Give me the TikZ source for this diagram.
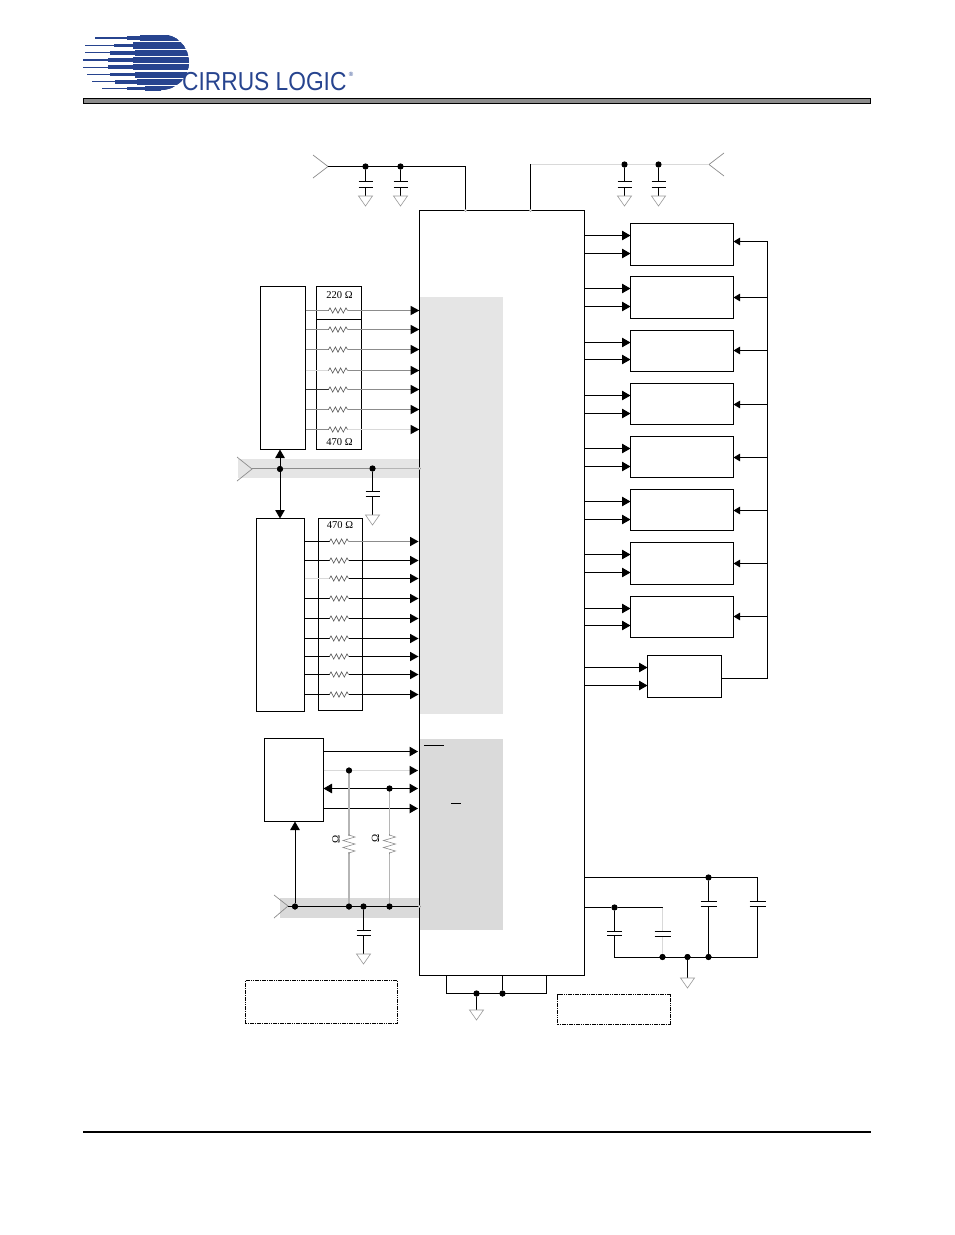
\documentclass[tikz,border=0pt]{standalone}
\usepackage{fontspec}
\setmainfont{Liberation Serif}
\newfontfamily\logofont{Liberation Sans}
\usetikzlibrary{arrows.meta,calc,patterns.meta}
\definecolor{logoblue}{HTML}{27448F}
\definecolor{wiregray}{HTML}{8C8C8C}
\definecolor{wirelight}{HTML}{D9D9D9}
\definecolor{wiremid}{HTML}{B5B5B5}
\definecolor{bandgray}{HTML}{E5E5E5}
\tikzset{
  x=1pt,y=-1pt,
  wire/.style={line width=1pt,black},
  gwire/.style={line width=1pt,wiregray},
  lwire/.style={line width=1pt,wirelight},
  mwire/.style={line width=1pt,wiremid},
  big/.style={-{Triangle[length=8.5pt,width=9.5pt]}},
  bigboth/.style={{Triangle[length=8.5pt,width=9.5pt]}-{Triangle[length=8.5pt,width=9.5pt]}},
  small/.style={-{Triangle[length=6.5pt,width=7.5pt]}},
  boxnode/.style={draw=black,line width=1pt,fill=white,inner sep=0pt,outer sep=0pt},
  dashbox/.style={draw=black,line width=1pt,dash pattern=on 1.6pt off .7pt,inner sep=0pt,outer sep=0pt},
  dotshade/.style={pattern={Dots[distance=2pt,radius=.62pt]},pattern color=black!62,inner sep=0pt,outer sep=0pt},
  jdot/.style={circle,fill=black,inner sep=0pt,minimum size=6pt},
  pinmark/.style={circle,draw=black!45,fill=white,line width=.4pt,inner sep=0pt,minimum size=2.4pt},
  gndtri/.style={draw=black!40,line width=.6pt,line join=miter},
  chev/.style={draw=wiregray,line width=.7pt},
  res/.style={draw=black!65,line width=.6pt},
  resv/.style={draw=black!45,line width=.6pt},
  lbl/.style={font=\fontsize{10.5}{12}\selectfont,inner sep=0pt,text=black},
}
\newcommand{\RectNode}[6][boxnode]{%
  \node[#1,anchor=north west,minimum width={(#5-#3)*1pt},minimum height={(#6-#4)*1pt}] (#2) at (#3,#4) {};}
\newcommand{\ResH}[2]{%
  \draw[res] (#1-9.5,#2) -- (#1-8,#2-2.6) -- (#1-5.3,#2+2.6) -- (#1-2.6,#2-2.6) -- (#1,#2+2.6) -- (#1+2.6,#2-2.6) -- (#1+5.3,#2+2.6) -- (#1+8,#2-2.6) -- (#1+9.5,#2);}
\newcommand{\ResV}[2]{%
  \fill[white] (#1-2,#2-8) rectangle (#1+2,#2+8);
  \draw[resv] (#1,#2-10) -- (#1,#2-9) -- (#1+6,#2-7) -- (#1-6,#2-3.5) -- (#1+6,#2) -- (#1-6,#2+3.5) -- (#1+6,#2+7) -- (#1,#2+9) -- (#1,#2+10);}
\newcommand{\CapPlates}[4][7]{%
  \fill[white] (#2-#1,#3) rectangle (#2+#1,#4);
  \draw[wire] (#2-#1,#3) -- (#2+#1,#3) (#2-#1,#4) -- (#2+#1,#4);}
\newcommand{\Gnd}[2]{%
  \draw[gndtri] (#1-7,#2) -- (#1+7,#2) -- (#1,#2+10) -- cycle;}
% the stripes of the logo
\newcommand{\LogoRows}{%
  \foreach \yy/\la/\lb/\lc/\hh in {38/95/127/140/6.8, 45.5/85/114/133/6.2, 52.7/85/110/135/6.2, 60/83/108/133/6.2, 67.2/83/108/133/6.2, 74.6/87/110/135/6.2, 81.8/92/115/137/6.2, 88.5/102/127/145/5}{
    \fill[logoblue] (\la,\yy-.65) rectangle (200,\yy+.65);
    \fill[logoblue] (\lb,\yy-1.8) rectangle (200,\yy+1.8);
    \fill[logoblue] (\lc,\yy-\hh/2) rectangle (200,\yy+\hh/2);
  }}
\begin{document}
\begin{tikzpicture}
\useasboundingbox[fill=white] (0,0) rectangle (954,1235);

% ---------- logo ----------
\begin{scope}
  \clip (70,30) rectangle (161,95);
  \LogoRows
\end{scope}
\begin{scope}
  \clip (161,62) circle[radius=28];
  \LogoRows
\end{scope}
\node[anchor=south west,inner sep=0pt,text=logoblue,xscale=.875,font=\logofont\fontsize{26}{26}\selectfont] (logotext) at (182,91) {CIRRUS LOGIC};
\node[anchor=center,inner sep=0pt,text=logoblue,font=\logofont\fontsize{6}{6}\selectfont] (logoreg) at (351,74) {®};

% header and footer rules
\RectNode[draw=black,line width=1pt,fill=black!45,inner sep=0pt,outer sep=0pt]{headbar}{83.5}{98.5}{870.5}{103}
\coordinate (footL) at (83,1132);
\coordinate (footR) at (871,1132);
\draw[line width=1.4pt] (footL) -- (footR);

% ---------- IC and shaded areas ----------
\RectNode{chip}{419.5}{210.5}{584.5}{975.5}
\RectNode[fill=bandgray,inner sep=0pt,outer sep=0pt]{shadeA}{420}{297}{503}{714}
\RectNode[dotshade]{shadeB}{420}{739}{503}{929}
\RectNode[fill=bandgray,inner sep=0pt,outer sep=0pt]{bandA}{238}{459}{419}{478}
\RectNode[dotshade]{bandB}{280}{898}{419}{917}

% overbars inside the IC
\draw[wire] (424,745.5) -- (444,745.5) (451,803.5) -- (461,803.5);

% ---------- top supplies ----------
\coordinate (inTL) at (328,166.5);
\coordinate (inTR) at (709,164.5);
\coordinate (pinTL) at (465.5,210.5);
\coordinate (pinTR) at (530.5,210.5);
\node[jdot] (dTL1) at (365.5,166.5) {};
\node[jdot] (dTL2) at (400.5,166.5) {};
\node[jdot] (dTR1) at (624.5,164.5) {};
\node[jdot] (dTR2) at (658.5,164.5) {};
\draw[chev] (313,155) -- (inTL) -- (313,178);
\draw[chev] (724,153) -- (inTR) -- (724,176);
\draw[wire] (inTL) -- (465.5,166.5) -- (pinTL);
\draw[lwire] (530.5,164.5) -- (inTR);
\draw[wire] (pinTR) -- (530.5,164);
\foreach \n/\xx in {dTL1/365.5,dTL2/400.5,dTR1/624.5,dTR2/658.5}{
  \draw[wire] (\n) -- (\xx,196);
  \CapPlates{\xx}{181.5}{187.5}
  \Gnd{\xx}{196}
}

% ---------- upper left block ----------
\RectNode{boxA}{260.5}{286.5}{305.5}{449.5}
\RectNode{resA}{316.5}{286.5}{361.5}{449.5}
\draw[wire] (resA.west |- 0,319.5) -- (resA.east |- 0,319.5);
\node[lbl] (t220) at (339.5,295) {220 Ω};
\node[lbl] (t470a) at (339.5,442.5) {470 Ω};
\foreach \yy/\cl/\cr in {310/wiregray/wiregray,329/wiregray/wiregray,349/wiregray/wiregray,370/wirelight/wiregray,389/black!80/wiregray,409/wiregray/wiregray,429/wiregray/wirelight}{
  \draw[line width=1pt,\cl] (boxA.east |- 0,\yy+.5) -- (328.5,\yy+.5);
  \draw[line width=1pt,\cr] (347.5,\yy+.5) -- (412,\yy+.5);
  \fill (419.3,\yy+.5) -- (410.5,\yy-4.25) -- (410.5,\yy+5.25) -- cycle;
  \ResH{338}{\yy+.5}
}

% ---------- common bus 1 ----------
\coordinate (inB1) at (252,469);
\draw[chev] (237,457) -- (inB1) -- (237,481);
\node[jdot] (dB1a) at (280,469) {};
\node[jdot] (dB1b) at (372.5,468.5) {};
\coordinate (pinB1) at (419.5,468.5);
\draw[gwire] (inB1 |- pinB1) -- (pinB1 -| dB1b);
\draw[mwire] (dB1b) -- (pinB1);
\draw[wire] (dB1b) -- (372.5,515);
\CapPlates{372.5}{491.5}{496.5}
\Gnd{372.5}{515}

% ---------- lower left block ----------
\RectNode{boxB}{256.5}{518.5}{304.5}{711.5}
\RectNode{resB}{318.5}{518.5}{362.5}{710.5}
\node[lbl] (t470b) at (340,525.5) {470 Ω};
\draw[wire,bigboth] (boxA.south -| dB1a) -- (boxB.north -| dB1a);
\foreach \yy/\cl/\cr in {541/black/wiregray,560/black/black,578/wirelight/black,598/black/black,618/black/black,638/black/black,656/black/black,674/black/black,694/black/black}{
  \draw[line width=1pt,\cl] (boxB.east |- 0,\yy+.5) -- (330,\yy+.5);
  \draw[line width=1pt,\cr] (348.5,\yy+.5) -- (412,\yy+.5);
  \fill (418.5,\yy+.5) -- (410,\yy-4.25) -- (410,\yy+5.25) -- cycle;
  \ResH{339}{\yy+.5}
}

% ---------- control block ----------
\RectNode{boxC}{264.5}{738.5}{323.5}{821.5}
\draw[wire,big] (boxC.east |- 0,751.5) -- (418,751.5);
\draw[lwire] (boxC.east |- 0,770.5) -- (410,770.5);
\fill (418,770.5) -- (409.5,765.75) -- (409.5,775.25) -- cycle;
\draw[wire,bigboth] (boxC.east |- 0,788.5) -- (418,788.5);
\draw[wire,big] (boxC.east |- 0,808.5) -- (418,808.5);
\node[jdot] (dC1) at (349,770.5) {};
\node[jdot] (dC2) at (389.5,788.5) {};

% ---------- common bus 2 ----------
\coordinate (inB2) at (288,906);
\draw[chev] (274,895) -- (inB2) -- (274,918);
\node[jdot] (dB2a) at (295,906.5) {};
\node[jdot] (dB2b) at (349,906.5) {};
\node[jdot] (dB2c) at (363.5,906.5) {};
\node[jdot] (dB2d) at (389.5,906.5) {};
\coordinate (pinB2) at (419.5,906.5);
\draw[wire] (inB2 |- pinB2) -- (pinB2);
\draw[wire,big] (dB2a) -- (boxC.south -| dB2a);
\draw[line width=1.3pt,wiremid] (dC1) -- (dB2b);
\draw[line width=.8pt,wiremid] (dC2) -- (dB2d);
\ResV{349}{844}
\ResV{389.5}{844}
\node[lbl,font=\fontsize{11}{12}\selectfont,rotate=90] (tOm1) at (336,839) {Ω};
\node[lbl,font=\fontsize{11}{12}\selectfont,rotate=90] (tOm2) at (375.5,838) {Ω};
\draw[wire] (dB2c) -- (363.5,954);
\CapPlates{363.5}{930.5}{935.5}
\Gnd{363.5}{954}

% ---------- dashed note boxes ----------
\RectNode[dashbox]{noteL}{245.5}{980.5}{397.5}{1023.5}
\RectNode[dashbox]{noteR}{557.5}{994.5}{670.5}{1024.5}

% ---------- IC ground pins ----------
\node[jdot] (dG1) at (476.5,993.5) {};
\node[jdot] (dG2) at (502.5,993.5) {};
\draw[wire] (446.5,975.5) -- (446.5,993.5) -- (546.5,993.5) -- (546.5,975.5);
\draw[wire] (dG2) -- (502.5,975.5);
\draw[wire] (dG1) -- (476.5,1010);
\Gnd{476.5}{1010}

% ---------- right side: output blocks ----------
\foreach \nn/\yt/\yb/\ya/\yc/\yf in {1/223.5/265.5/235.5/253.5/241.5,2/276.5/318.5/288.5/306.5/297.5,3/330.5/371.5/342.5/359.5/350.5,4/383.5/424.5/395.5/413.5/404.5,5/436.5/477.5/448.5/466.5/457.5,6/489.5/530.5/501.5/519.5/510.5,7/542.5/584.5/554.5/572.5/563.5,8/596.5/637.5/608.5/625.5/616.5}{
  \RectNode{dac\nn}{630.5}{\yt}{733.5}{\yb}
  \draw[wire,big] (chip.east |- 0,\ya) -- (dac\nn.west |- 0,\ya);
  \draw[wire,big] (chip.east |- 0,\yc) -- (dac\nn.west |- 0,\yc);
  \draw[wire,small] (767.5,\yf) -- (dac\nn.east |- 0,\yf);
}
\RectNode{vreg}{647.5}{655.5}{721.5}{697.5}
\draw[wire,big] (chip.east |- 0,667.5) -- (vreg.west |- 0,667.5);
\draw[wire,big] (chip.east |- 0,685.5) -- (vreg.west |- 0,685.5);
\draw[wire] (vreg.east |- 0,678.5) -- (767.5,678.5) -- (767.5,241.5);

% ---------- filter caps lower right ----------
\node[jdot] (dF1) at (708.5,877.5) {};
\node[jdot] (dF2) at (614.5,907.5) {};
\node[jdot] (dF3) at (662.5,957) {};
\node[jdot] (dF4) at (687.5,957) {};
\node[jdot] (dF5) at (708.5,957) {};
\draw[wire] (chip.east |- 0,877.5) -- (757.5,877.5) -- (757.5,957.5) -- (614.5,957.5) -- (dF2);
\draw[wire] (chip.east |- 0,907.5) -- (dF2);
\draw[wire] (dF2) -- (662.5,907.5);
\draw[lwire] (662.5,907.5) -- (dF3);
\draw[wire] (dF1) -- (dF5);
\draw[wire] (dF4) -- (687.5,978);
\CapPlates[7.5]{614.5}{931.5}{935.5}
\CapPlates[8]{662.5}{931.5}{936.5}
\CapPlates[8]{708.5}{901.5}{906.5}
\CapPlates[8]{757.5}{901.5}{906.5}
\Gnd{687.5}{978}

% junction dots and pin marks stay on top of the wires
\foreach \n in {dTL1,dTL2,dTR1,dTR2,dB1a,dB1b,dC1,dC2,dB2a,dB2b,dB2c,dB2d,dG1,dG2,dF1,dF2,dF3,dF4,dF5}{
  \fill[black] (\n) circle[radius=3];
}
\foreach \n/\m in {pinTL/mTL,pinTR/mTR,pinB1/mB1,pinB2/mB2}{
  \node[pinmark] (\m) at (\n) {};
}
\end{tikzpicture}
\end{document}
